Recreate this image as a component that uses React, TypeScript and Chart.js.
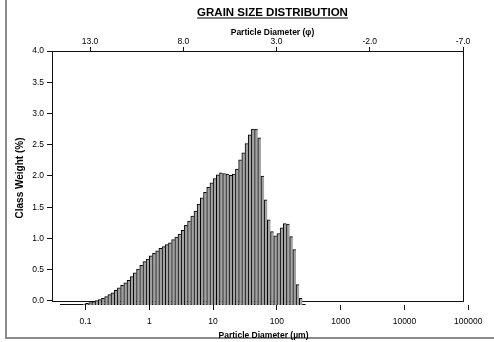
import React, { useEffect, useRef } from 'react';
import { Chart, registerables } from 'chart.js';

Chart.register(...registerables);

// Bin centres (µm), log-spaced classes
const BIN_CENTERS_UM = [
  0.04217, 0.04732, 0.05309, 0.05957, 0.06683, 0.07499, 0.08414, 0.09441,
  0.1059, 0.1189, 0.1334, 0.1496, 0.1679, 0.1884, 0.2114, 0.2371, 0.2661, 0.2985,
  0.3350, 0.3758, 0.4217, 0.4732, 0.5309, 0.5957, 0.6683, 0.7499, 0.8414, 0.9441,
  1.059, 1.189, 1.334, 1.496, 1.679, 1.884, 2.114, 2.371, 2.661, 2.985,
  3.350, 3.758, 4.217, 4.732, 5.309, 5.957, 6.683, 7.499, 8.414, 9.441,
  10.59, 11.89, 13.34, 14.96, 16.79, 18.84, 21.14, 23.71, 26.61, 29.85,
  33.50, 37.58, 42.17, 47.32, 53.09, 59.57, 66.83, 74.99, 84.14, 94.41,
  105.9, 118.9, 133.4, 149.6, 167.9, 188.4, 211.4, 237.1, 266.1,
];

// Class weight (%)
const CLASS_WEIGHT: (number | null)[] = [
  null, null, null, null, null, null, null, -0.05,
  -0.04, -0.025, -0.01, 0.005, 0.02, 0.04, 0.07, 0.10, 0.13, 0.17,
  0.21, 0.25, 0.29, 0.33, 0.39, 0.45, 0.51, 0.57, 0.63, 0.67,
  0.72, 0.76, 0.80, 0.84, 0.87, 0.90, 0.93, 0.98, 1.02, 1.07,
  1.13, 1.21, 1.28, 1.36, 1.44, 1.55, 1.65, 1.74, 1.82, 1.89,
  1.96, 2.02, 2.05, 2.04, 2.03, 2.01, 2.03, 2.11, 2.26, 2.37,
  2.52, 2.66, 2.75, 2.75, 2.61, 2.00, 1.62, 1.30, 1.11, 1.04,
  1.08, 1.17, 1.24, 1.23, 1.03, 0.82, 0.26, 0.04, null,
];

const Y_TICKS = [0, 0.5, 1, 1.5, 2, 2.5, 3, 3.5, 4];
const UM_TICKS = [0.1, 1, 10, 100, 1000, 10000, 100000];
const UM_TICK_LABELS = ['0.1', '1', '10', '100', '1000', '10000', '100000'];
const PHI_TICKS = [13, 8, 3, -2, -7];

const TITLE = 'GRAIN SIZE DISTRIBUTION';
const X_TITLE = 'Particle Diameter (µm)';
const X2_TITLE = 'Particle Diameter (φ)';
const Y_TITLE = 'Class Weight (%)';

const BAR_BASE = -0.065;
const FONT = '"Liberation Sans", Arial, sans-serif';

const framePlugin = {
  id: 'gradFrame',
  beforeDatasetsDraw(chart: any) {
    const { ctx, chartArea, scales } = chart;
    const xl = Math.round(chartArea.left) + 0.5;
    const xr = Math.round(scales.x2.getPixelForValue(PHI_TICKS[PHI_TICKS.length - 1])) + 0.5;
    const yt = Math.round(scales.y.getPixelForValue(Y_TICKS[Y_TICKS.length - 1])) + 0.5;
    const yb = Math.round(scales.y.getPixelForValue(0)) + 0.5;
    ctx.save();
    ctx.strokeStyle = '#111';
    ctx.lineWidth = 1;
    ctx.strokeRect(xl, yt, xr - xl, yb - yt);
    // histogram base line
    const n = BIN_CENTERS_UM.length;
    const half = Math.sqrt(BIN_CENTERS_UM[1] / BIN_CENTERS_UM[0]);
    const x0 = scales.x.getPixelForValue(BIN_CENTERS_UM[0] / half);
    const x1 = scales.x.getPixelForValue(BIN_CENTERS_UM[n - 1] * half);
    const yBase = Math.round(scales.y.getPixelForValue(BAR_BASE)) - 0.5;
    ctx.beginPath();
    ctx.moveTo(x0, yBase);
    ctx.lineTo(x1, yBase);
    ctx.stroke();
    ctx.restore();
  },
  afterDraw(chart: any) {
    const { ctx } = chart;
    ctx.save();
    ctx.fillStyle = '#000';
    ctx.textAlign = 'center';
    ctx.textBaseline = 'alphabetic';
    ctx.font = `bold 11.5px ${FONT}`;
    const cx = 272.5;
    ctx.fillText(TITLE, cx, 16);
    const w = ctx.measureText(TITLE).width;
    ctx.strokeStyle = '#000';
    ctx.lineWidth = 1.2;
    ctx.beginPath();
    ctx.moveTo(cx - w / 2, 18);
    ctx.lineTo(cx + w / 2, 18);
    ctx.stroke();
    ctx.font = `bold 8.5px ${FONT}`;
    ctx.fillText(X2_TITLE, cx, 35);
    ctx.restore();
  },
};

export default function App() {
  const ref = useRef<HTMLCanvasElement>(null);

  useEffect(() => {
    if (!ref.current) return;
    const tickFont = { family: FONT, size: 8.5 };
    const chart = new Chart(ref.current, {
      type: 'bar',
      data: {
        datasets: [
          {
            data: BIN_CENTERS_UM.map((x, i) => ({ x, y: CLASS_WEIGHT[i] })) as any,
            backgroundColor: '#a2a2a2',
            borderColor: '#000',
            borderWidth: { left: 1, right: 0, top: 1, bottom: 0 } as any,
            borderSkipped: false,
            base: BAR_BASE,
            barPercentage: 1,
            categoryPercentage: 1,
            xAxisID: 'x',
            yAxisID: 'y',
          } as any,
        ],
      },
      options: {
        responsive: false,
        animation: false,
        devicePixelRatio: 1,
        layout: { padding: { left: 8, right: 19, top: 0, bottom: 0 } },
        plugins: { legend: { display: false }, tooltip: { enabled: false }, title: { display: false } },
        scales: {
          x: {
            type: 'logarithmic',
            position: 'bottom',
            offset: false,
            min: 0.02985,
            max: 127350,
            afterFit: (s: any) => { s.height = 37; },
            afterBuildTicks: (s: any) => { s.ticks = UM_TICKS.map((v) => ({ value: v })); },
            border: { display: false },
            grid: { display: true, offset: false, drawOnChartArea: false, drawTicks: true, tickLength: 5, color: '#111', lineWidth: 1 },
            ticks: {
              autoSkip: false,
              maxRotation: 0,
              padding: 7,
              color: '#000',
              font: tickFont,
              callback: (v: any) => {
                const i = UM_TICKS.indexOf(Number(v));
                return i >= 0 ? UM_TICK_LABELS[i] : '';
              },
            },
            title: { display: true, text: X_TITLE, color: '#000', font: { family: FONT, size: 8.5, weight: 'bold' }, padding: { top: 0, bottom: 1 } },
          },
          x2: {
            type: 'linear',
            position: 'top',
            reverse: true,
            offset: false,
            min: -7.643,
            max: 15.04,
            afterFit: (s: any) => { s.height = 51; },
            afterBuildTicks: (s: any) => { s.ticks = PHI_TICKS.map((v) => ({ value: v })); },
            border: { display: false },
            grid: { display: true, offset: false, drawOnChartArea: false, drawTicks: true, tickLength: 4, color: '#111', lineWidth: 1 },
            ticks: {
              autoSkip: false,
              maxRotation: 0,
              padding: 0,
              color: '#000',
              font: tickFont,
              callback: (v: any) => Number(v).toFixed(1),
            },
          },
          y: {
            type: 'linear',
            position: 'left',
            min: BAR_BASE,
            max: 4,
            afterFit: (s: any) => { s.width = 44; },
            afterBuildTicks: (s: any) => { s.ticks = Y_TICKS.map((v) => ({ value: v })); },
            border: { display: false },
            grid: { display: true, drawOnChartArea: false, drawTicks: true, tickLength: 5, color: '#111', lineWidth: 1 },
            ticks: {
              autoSkip: false,
              padding: 3,
              color: '#000',
              font: tickFont,
              callback: (v: any) => Number(v).toFixed(1),
            },
            title: { display: true, text: Y_TITLE, color: '#000', font: { family: FONT, size: 10, weight: 'bold' }, padding: { top: 6, bottom: 0 } },
          },
        },
      } as any,
      plugins: [framePlugin],
    });
    return () => chart.destroy();
  }, []);

  return (
    <div style={{ position: 'fixed', left: 0, top: 0, width: 494, height: 342, background: '#fff' }}>
      <div
        style={{
          position: 'absolute',
          left: 5,
          top: -2,
          width: 489,
          height: 341,
          borderLeft: '2px solid #8a8a8a',
          borderBottom: '2px solid #8a8a8a',
          boxSizing: 'border-box',
        }}
      />
      <canvas ref={ref} width={494} height={342} style={{ position: 'absolute', left: 0, top: 0, width: 494, height: 342 }} />
    </div>
  );
}
